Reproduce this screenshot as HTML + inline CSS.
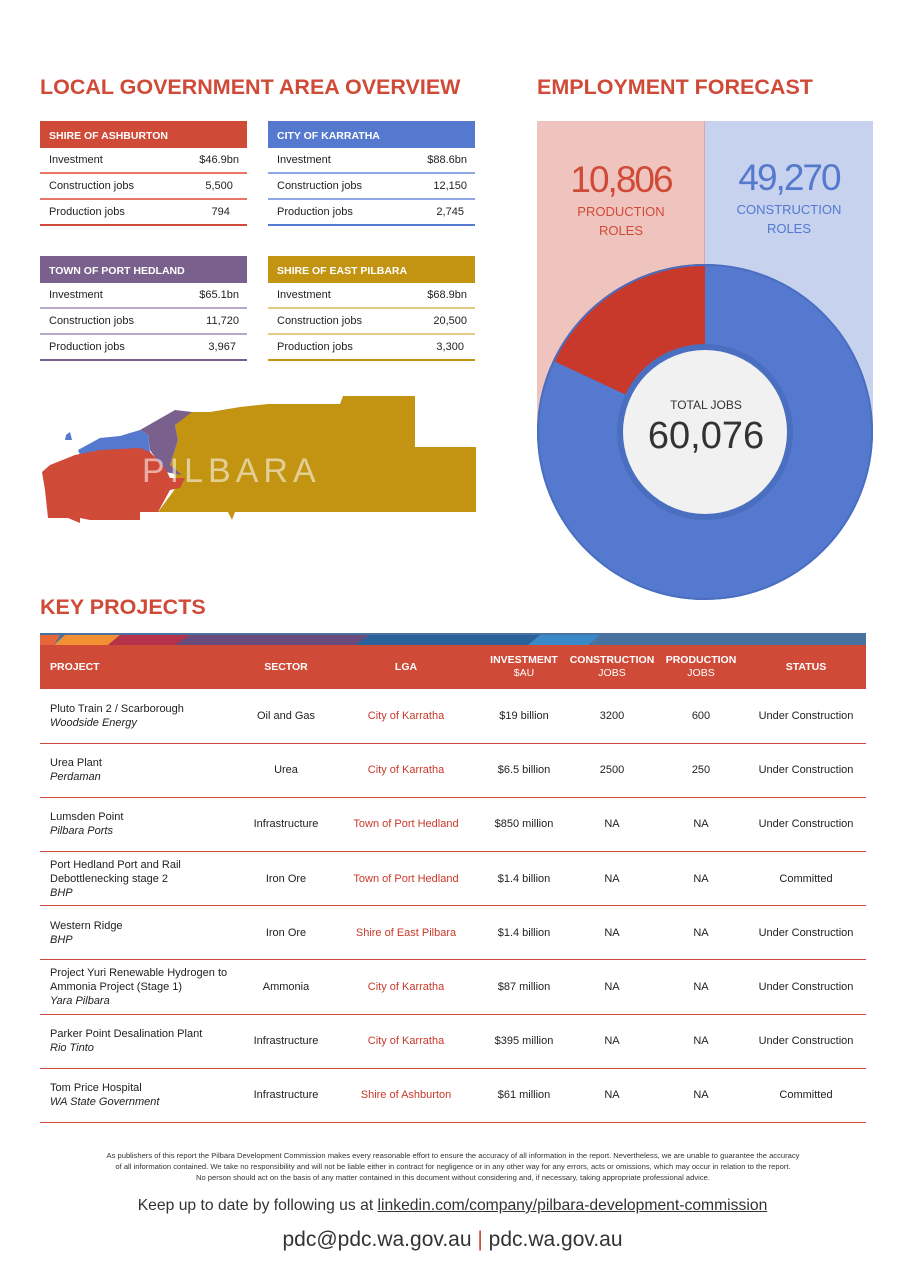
<!DOCTYPE html>
<html><head><meta charset="utf-8"><style>
*{margin:0;padding:0;box-sizing:border-box}
body{width:905px;height:1280px;background:#fff;font-family:"Liberation Sans",sans-serif;position:relative;overflow:hidden;color:#222}
.abs{position:absolute}
h2{position:absolute;font-size:21.5px;font-weight:bold;color:#d04a38;letter-spacing:0}
.card{position:absolute;width:207px;font-size:11px}
.card .hd{height:27px;color:#fff;font-weight:bold;font-size:10.5px;padding:9px 0 0 9px}
.card .r{height:26px;display:flex;justify-content:space-between;padding:0 8px 0 9px;align-items:center;border-bottom:2px solid}
table{position:absolute;left:40px;top:645px;width:826px;border-collapse:collapse;font-size:11px}
th{background:#d04a38;color:#fff;font-size:10.5px;height:44px;font-weight:bold;text-align:center;line-height:13px}
th span{font-weight:normal}
td{height:54.2px;border-bottom:1px solid #d04a38;text-align:center;line-height:14px}
td:first-child{text-align:left;padding-left:10px}
td.l{color:#c8392b}
i{font-style:italic}
</style></head><body>
<h2 style="left:40px;top:75px">LOCAL GOVERNMENT AREA OVERVIEW</h2>
<h2 style="left:537px;top:75px">EMPLOYMENT FORECAST</h2>

<div class="card" style="left:40px;top:121px"><div class="hd" style="background:#d04a38">SHIRE OF ASHBURTON</div>
<div class="r" style="border-color:#e8766a"><span>Investment</span><span>$46.9bn</span></div>
<div class="r" style="border-color:#e8766a"><span>Construction jobs</span><span>5,500&nbsp;&nbsp;</span></div>
<div class="r" style="border-color:#d04a38"><span>Production jobs</span><span>794&nbsp;&nbsp;&nbsp;</span></div></div>
<div class="card" style="left:268px;top:121px"><div class="hd" style="background:#5479ce">CITY OF KARRATHA</div>
<div class="r" style="border-color:#8ea6e2"><span>Investment</span><span>$88.6bn</span></div>
<div class="r" style="border-color:#8ea6e2"><span>Construction jobs</span><span>12,150</span></div>
<div class="r" style="border-color:#5479ce"><span>Production jobs</span><span>2,745&nbsp;</span></div></div>
<div class="card" style="left:40px;top:256px"><div class="hd" style="background:#7a618d">TOWN OF PORT HEDLAND</div>
<div class="r" style="border-color:#b8a9c6"><span>Investment</span><span>$65.1bn</span></div>
<div class="r" style="border-color:#b8a9c6"><span>Construction jobs</span><span>11,720</span></div>
<div class="r" style="border-color:#7a618d"><span>Production jobs</span><span>3,967&nbsp;</span></div></div>
<div class="card" style="left:268px;top:256px"><div class="hd" style="background:#c29412">SHIRE OF EAST PILBARA</div>
<div class="r" style="border-color:#e3cd85"><span>Investment</span><span>$68.9bn</span></div>
<div class="r" style="border-color:#e3cd85"><span>Construction jobs</span><span>20,500</span></div>
<div class="r" style="border-color:#c29412"><span>Production jobs</span><span>3,300&nbsp;</span></div></div>

<svg class="abs" style="left:30px;top:390px" width="460" height="140">
<polygon fill="#c29412" points="180,22 210,17 238,14 310,14 313,6 385,6 385,57 446,57 446,122 205,122 202,130 198,122 128,122 148,95 140,75 148,50 145,35 160,22"/>
<polygon fill="#7a618d" points="110,40 145,20 162,22 145,35 148,50 140,75 152,85 135,82 120,60 118,45"/>
<polygon fill="#5479ce" points="48,60 70,48 90,46 110,40 118,45 120,62 100,64 70,62 50,65"/>
<polygon fill="#5479ce" points="36,45 40,42 42,50 35,50"/>
<polygon fill="#d04a38" points="20,75 45,65 70,60 110,58 120,62 135,78 140,88 155,88 150,98 140,100 128,122 110,122 110,130 60,130 50,128 50,133 38,128 18,128 15,100 12,82"/>
<text x="112" y="92" font-family="Liberation Sans,sans-serif" font-size="34" fill="#fff" fill-opacity="0.55" letter-spacing="5">PILBARA</text>
</svg>

<div class="abs" style="left:537px;top:121px;width:168px;height:311px;background:#f0c4be"></div>
<div class="abs" style="left:705px;top:121px;width:168px;height:311px;background:#c6d2ee"></div>
<div class="abs" style="left:704px;top:121px;width:1px;height:150px;background:#d9a8a8"></div>
<svg class="abs" style="left:537px;top:264px" width="336" height="336">
<circle cx="168" cy="168" r="126" fill="none" stroke="#5479ce" stroke-width="84"/>
<circle cx="168" cy="168" r="126" fill="none" stroke="#c8392b" stroke-width="84" stroke-dasharray="142.5 1000" transform="rotate(-90 168 168) scale(1,-1) translate(0,-336)"/>
<circle cx="168" cy="168" r="167" fill="none" stroke="#4a6fc0" stroke-width="2"/>
<circle cx="168" cy="168" r="85" fill="#f1f1f1" stroke="#4a6fc0" stroke-width="6"/>
</svg>
<div class="abs" style="left:537px;top:158px;width:168px;text-align:center;color:#d04a38"><div style="font-size:37px;letter-spacing:-2px;line-height:44px">10,806</div><div style="font-size:13px;line-height:19px">PRODUCTION<br>ROLES</div></div>
<div class="abs" style="left:705px;top:156px;width:168px;text-align:center;color:#5479ce"><div style="font-size:37px;letter-spacing:-2px;line-height:44px">49,270</div><div style="font-size:13px;line-height:19px">CONSTRUCTION<br>ROLES</div></div>
<div class="abs" style="left:620px;top:398px;width:172px;text-align:center;color:#333"><div style="font-size:12px">TOTAL JOBS</div><div style="font-size:38px;line-height:48px">60,076</div></div>

<h2 style="left:40px;top:595px">KEY PROJECTS</h2>
<svg class="abs" style="left:40px;top:633px" width="826" height="12">
<rect width="826" height="12" fill="#4a72a0"/>
<polygon points="0,12 0,2 20,2 14,12" fill="#e8663a"/>
<polygon points="14,12 25,2 80,2 68,12" fill="#f39033"/>
<polygon points="68,12 80,2 230,2 218,12" fill="#b5334a"/>
<polygon points="135,12 150,2 330,2 315,12" fill="#6a4b7e"/>
<polygon points="315,12 330,2 500,2 488,12" fill="#2c629c"/>
<polygon points="488,12 500,2 560,2 548,12" fill="#3a8ac8"/>
</svg>
<table>
<tr><th style="text-align:left;padding-left:10px;width:200px">PROJECT</th><th style="width:92px">SECTOR</th><th style="width:148px">LGA</th><th style="width:88px">INVESTMENT<br><span>$AU</span></th><th style="width:88px">CONSTRUCTION<br><span>JOBS</span></th><th style="width:90px">PRODUCTION<br><span>JOBS</span></th><th>STATUS</th></tr>
<tr><td>Pluto Train 2 / Scarborough<br><i>Woodside Energy</i></td><td>Oil and Gas</td><td class="l">City of Karratha</td><td>$19 billion</td><td>3200</td><td>600</td><td>Under Construction</td></tr>
<tr><td>Urea Plant<br><i>Perdaman</i></td><td>Urea</td><td class="l">City of Karratha</td><td>$6.5 billion</td><td>2500</td><td>250</td><td>Under Construction</td></tr>
<tr><td>Lumsden Point<br><i>Pilbara Ports</i></td><td>Infrastructure</td><td class="l">Town of Port Hedland</td><td>$850 million</td><td>NA</td><td>NA</td><td>Under Construction</td></tr>
<tr><td>Port Hedland Port and Rail<br>Debottlenecking stage 2<br><i>BHP</i></td><td>Iron Ore</td><td class="l">Town of Port Hedland</td><td>$1.4 billion</td><td>NA</td><td>NA</td><td>Committed</td></tr>
<tr><td>Western Ridge<br><i>BHP</i></td><td>Iron Ore</td><td class="l">Shire of East Pilbara</td><td>$1.4 billion</td><td>NA</td><td>NA</td><td>Under Construction</td></tr>
<tr><td>Project Yuri Renewable Hydrogen to<br>Ammonia Project (Stage 1)<br><i>Yara Pilbara</i></td><td>Ammonia</td><td class="l">City of Karratha</td><td>$87 million</td><td>NA</td><td>NA</td><td>Under Construction</td></tr>
<tr><td>Parker Point Desalination Plant<br><i>Rio Tinto</i></td><td>Infrastructure</td><td class="l">City of Karratha</td><td>$395 million</td><td>NA</td><td>NA</td><td>Under Construction</td></tr>
<tr><td>Tom Price Hospital<br><i>WA State Government</i></td><td>Infrastructure</td><td class="l">Shire of Ashburton</td><td>$61 million</td><td>NA</td><td>NA</td><td>Committed</td></tr>
</table>

<div class="abs" style="left:40px;top:1150px;width:826px;text-align:center;font-size:7.6px;line-height:11px;color:#333">As publishers of this report the Pilbara Development Commission makes every reasonable effort to ensure the accuracy of all information in the report. Nevertheless, we are unable to guarantee the accuracy<br>of all information contained. We take no responsibility and will not be liable either in contract for negligence or in any other way for any errors, acts or omissions, which may occur in relation to the report.<br>No person should act on the basis of any matter contained in this document without considering and, if necessary, taking appropriate professional advice.</div>
<div class="abs" style="left:0;top:1197px;width:905px;text-align:center;font-size:15.7px;color:#333">Keep up to date by following us at <u>linkedin.com/company/pilbara-development-commission</u></div>
<div class="abs" style="left:0;top:1228px;width:905px;text-align:center;font-size:21px;color:#333">pdc@pdc.wa.gov.au <span style="color:#d04a38">|</span> pdc.wa.gov.au</div>
</body></html>
